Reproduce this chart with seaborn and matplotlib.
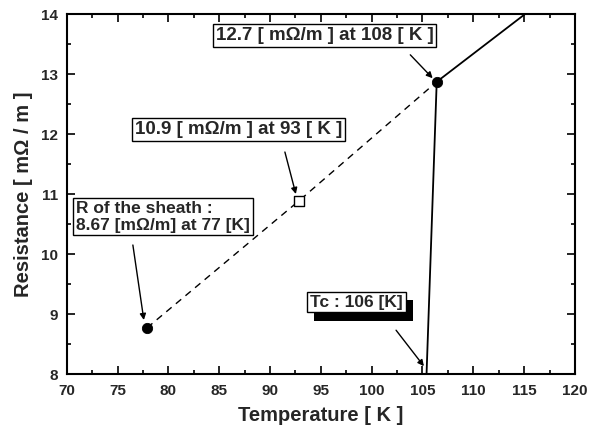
"""
plot.py
Resistance of the sheath vs temperature, recreated with seaborn.
"""

import matplotlib
matplotlib.use("Agg")
import matplotlib.pyplot as plt
import matplotlib.patheffects as pe
from matplotlib.ticker import MultipleLocator
import seaborn as sns
import pandas as pd

# data
dash_T = [77.9, 92.8, 106.4]
dash_R = [8.77, 10.88, 12.87]
solid_T = [105.4, 106.4, 115.1]
solid_R = [8.0, 12.87, 14.0]
circle_T = [77.9, 106.4]
circle_R = [8.77, 12.87]
square_T = [92.8]
square_R = [10.88]

labels = ["12.7 [ m\u03a9/m ] at 108 [ K ]",
          "10.9 [ m\u03a9/m ] at 93 [ K ]",
          "R of the sheath :\n8.67 [m\u03a9/m] at 77 [K]",
          "Tc : 106 [K]"]
label_pos = [(95.35, 13.64), (86.9, 12.08), (70.9, 10.62), (98.5, 9.2)]
arrow_tail = [(103.8, 13.32), (91.46, 11.7), (76.5, 10.15), (102.4, 8.73)]
arrow_head = [(106.0, 12.93), (92.54, 11.0), (77.58, 8.9), (105.14, 8.13)]

sns.set_theme(style="ticks")
plt.rcParams["font.family"] = ["Liberation Sans", "DejaVu Sans"]
plt.rcParams["font.weight"] = "bold"

fig = plt.figure(figsize=(6.02, 4.25), dpi=100)
ax = fig.add_axes([0.111, 0.12, 0.844, 0.847])

dash_df = pd.DataFrame({"T": dash_T, "R": dash_R})
solid_df = pd.DataFrame({"T": solid_T, "R": solid_R})
sns.lineplot(data=dash_df, x="T", y="R", sort=False, color="black",
             linestyle=(0, (5, 4)), linewidth=1.0, ax=ax)
sns.scatterplot(x=square_T, y=square_R, marker="s", s=60, color="white",
                edgecolor="black", linewidth=1.0, ax=ax, zorder=5)
sns.lineplot(data=solid_df, x="T", y="R", sort=False, color="black",
             linewidth=1.3, ax=ax)
sns.scatterplot(x=circle_T, y=circle_R, marker="o", s=55, color="black",
                edgecolor="black", ax=ax, zorder=5)

ax.set_xlim(70, 120)
ax.set_ylim(8, 14)
ax.xaxis.set_major_locator(MultipleLocator(5))
ax.xaxis.set_minor_locator(MultipleLocator(2.5))
ax.yaxis.set_major_locator(MultipleLocator(1))
ax.yaxis.set_minor_locator(MultipleLocator(0.5))
ax.tick_params(which="both", direction="in", top=True, right=True,
               width=1.2, labelsize=11, color="black")
ax.tick_params(which="major", length=6)
ax.tick_params(which="minor", length=3)
ax.tick_params(axis="x", pad=7)
ax.tick_params(axis="y", pad=6)
for lbl in ax.get_xticklabels() + ax.get_yticklabels():
    lbl.set_fontweight("bold")
for sp in ax.spines.values():
    sp.set_linewidth(1.5)
    sp.set_color("black")

ax.set_xlabel("Temperature [ K ]", fontsize=14.5, fontweight="bold", labelpad=6)
ax.set_ylabel("Resistance [ m\u03a9 / m ]", fontsize=14.5, fontweight="bold", labelpad=6)

sizes = [13.5, 13.5, 12.5, 12.5]
texts = []
for i, (txt, (x, y)) in enumerate(zip(labels, label_pos)):
    ha = "left" if i == 2 else "center"
    t = ax.text(x, y, txt, ha=ha, va="center", fontsize=sizes[i], fontweight="bold",
                bbox=dict(boxstyle="square,pad=0.16", fc="white", ec="black", lw=1.0),
                zorder=6, linespacing=1.15)
    texts.append(t)

# drop shadow behind the Tc box
texts[3].get_bbox_patch().set_path_effects([
    pe.SimplePatchShadow(offset=(5, -6), shadow_rgbFace="black", alpha=1.0),
    pe.Normal()])

for tail, head in zip(arrow_tail, arrow_head):
    ax.annotate("", xy=head, xytext=tail,
                arrowprops=dict(arrowstyle="-|>", color="black", lw=1.0,
                                mutation_scale=9, shrinkA=0, shrinkB=0),
                zorder=6)

fig.savefig("out.png", dpi=100)
